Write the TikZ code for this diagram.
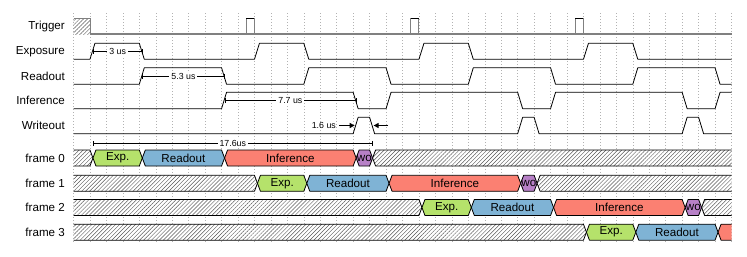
\documentclass[tikz,border=0pt]{standalone}
\usepackage{fontspec}
\setmainfont{Liberation Sans}
\usetikzlibrary{patterns.meta,arrows.meta}
\definecolor{cexp}{RGB}{181,226,107}
\definecolor{cread}{RGB}{127,179,213}
\definecolor{cinf}{RGB}{251,128,114}
\definecolor{cwo}{RGB}{183,128,199}
\definecolor{trig}{RGB}{128,128,128}
\newcommand\cx[1]{73.5+16.45*#1}
\tikzset{
 lbl/.style={anchor=east,font=\fontsize{11.6}{14}\selectfont,inner sep=0pt},
 dtext/.style={font=\fontsize{11.6}{14}\selectfont,inner sep=0pt},
 small/.style={font=\fontsize{8.8}{10}\selectfont,fill=white,inner sep=2pt},
 sigline/.style={line width=0.8pt,line join=round},
 gridl/.style={black!30,line width=0.5pt,dash pattern=on 1pt off 2pt},
 hatch/.style={preaction={fill=white},pattern={Lines[angle=45,distance=2.8pt,line width=0.45pt]},pattern color=black!65},
 border/.style={line width=0.8pt,line join=round},
 dim/.style={line width=0.6pt},
 dimbar/.style={dim,{Bar[width=5pt]}-{Bar[width=5pt]}},
 arr/.style={line width=0.8pt,-{Triangle[length=5pt,width=5pt]}},
}
% middle data segment: c a b style text name
\newcommand\segM[6]{%
 \draw[border,#4] (\cx{#2}+6,#1-8) -- (\cx{#3},#1-8) -- (\cx{#3}+3,#1) -- (\cx{#3},#1+8) -- (\cx{#2}+6,#1+8) -- (\cx{#2}+3,#1) -- cycle;
 \node[dtext] (#6) at ({8.225*#2+8.225*#3+76.5},#1) {#5};
}
% first (hatched) segment: c b
\newcommand\segS[2]{%
 \path[hatch] (\cx{0},#1-8) -- (\cx{#2},#1-8) -- (\cx{#2}+3,#1) -- (\cx{#2},#1+8) -- (\cx{0},#1+8) -- cycle;
 \draw[border] (\cx{0},#1-8) -- (\cx{#2},#1-8) -- (\cx{#2}+3,#1) -- (\cx{#2},#1+8) -- (\cx{0},#1+8);
}
% last segment: c a style
\newcommand\segE[3]{%
 \path[#3] (\cx{#2}+6,#1-8) -- (\cx{40},#1-8) -- (\cx{40},#1+8) -- (\cx{#2}+6,#1+8) -- (\cx{#2}+3,#1) -- cycle;
 \draw[border] (\cx{40},#1-8) -- (\cx{#2}+6,#1-8) -- (\cx{#2}+3,#1) -- (\cx{#2}+6,#1+8) -- (\cx{40},#1+8);
}
% wave: low high list tail
\newcommand\wave[4]{%
 \draw[sigline] (\cx{0},#1) \foreach \a/\b in {#3} { -- (\cx{\a},#1) -- (\cx{\a}+5,#2) -- (\cx{\b},#2) -- (\cx{\b}+5,#1)} #4;
}
\begin{document}
\begin{tikzpicture}[x=1pt,y=-1pt]
\useasboundingbox (0,0) rectangle (747,257);
% grid
\foreach \i in {0,...,40} \draw[gridl] (\cx{\i},13) -- (\cx{\i},242);
% labels
\node[lbl] (ltrig) at (65,26.3) {Trigger};
\node[lbl] (lexp) at (65,51.3) {Exposure};
\node[lbl] (lread) at (65,76) {Readout};
\node[lbl] (linf) at (65,100.5) {Inference};
\node[lbl] (lwo) at (65,125.5) {Writeout};
\node[lbl] (lf0) at (65,158) {frame 0};
\node[lbl] (lf1) at (65,183.3) {frame 1};
\node[lbl] (lf2) at (65,207.5) {frame 2};
\node[lbl] (lf3) at (65,232.2) {frame 3};
% trigger
\path[hatch] (\cx{0},18.3) rectangle (\cx{1},34.3);
\draw[trig,line width=0.6pt] (\cx{0},18.3) -- (\cx{1},18.3) -- (\cx{1},34.3);
\draw[trig,line width=1.8pt] (\cx{1},34.3) -- (\cx{40},34.3);
\foreach \p in {10.5,20.5,30.5}{
  \draw[trig,line width=0.9pt] (\cx{\p},34.3) -- (\cx{\p},18.3);
  \draw[trig,line width=0.9pt] (\cx{\p}+8.2,18.3) -- (\cx{\p}+8.2,34.3);
  \draw[black,line width=0.9pt] (\cx{\p},18.3) -- (\cx{\p}+8.2,18.3);
}
% signals
\wave{59.3}{43.3}{1/4,11/14,21/24,31/34}{-- (\cx{40},59.3)}
\wave{84.3}{67.7}{4/9,14/19,24/29,34/39}{-- (\cx{40},84.3)}
\wave{108.7}{92.3}{9/17,19/27,29/37}{-- (\cx{39},108.7) -- (\cx{39}+5,92.3) -- (\cx{40},92.3)}
\wave{133.7}{117.3}{17/18,27/28,37/38}{-- (\cx{40},133.7)}
% dimensions
\coordinate (d1a) at (\cx{1}+3,51.3);
\coordinate (d1b) at (\cx{4}+3,51.3);
\draw[dimbar] (d1a) -- node[small] (t1) {3 us} (d1b);
\coordinate (d2a) at (\cx{4}+3,76);
\coordinate (d2b) at (\cx{9}+3,76);
\draw[dimbar] (d2a) -- node[small] (t2) {5.3 us} (d2b);
\coordinate (d3a) at (\cx{9}+3,100.5);
\coordinate (d3b) at (\cx{17}+3,100.5);
\draw[dimbar] (d3a) -- node[small] (t3) {7.7 us} (d3b);
\coordinate (d4a) at (\cx{1}+3,143.3);
\coordinate (d4b) at (\cx{18}+3,143.3);
\draw[dimbar] (d4a) -- node[small] (t4) {17.6us} (d4b);
\coordinate (w1s) at (339,125.5);
\coordinate (w1t) at (\cx{17}+1.5,125.5);
\coordinate (w2s) at (388,125.5);
\coordinate (w2t) at (\cx{18}+4,125.5);
\draw[arr] (w1s) -- (w1t);
\draw[arr] (w2s) -- (w2t);
\node[small,fill=none,anchor=east,inner sep=0pt] (t5) at (336,125.5) {1.6 us};
% frame 0
\segS{158}{1}
\segM{158}{1}{4}{fill=cexp}{Exp.}{f0e}
\segM{158}{4}{9}{fill=cread}{Readout}{f0r}
\segM{158}{9}{17}{fill=cinf}{Inference}{f0i}
\segM{158}{17}{18}{fill=cwo}{wo}{f0w}
\segE{158}{18}{hatch}
% frame 1
\segS{183.3}{11}
\segM{183.3}{11}{14}{fill=cexp}{Exp.}{f1e}
\segM{183.3}{14}{19}{fill=cread}{Readout}{f1r}
\segM{183.3}{19}{27}{fill=cinf}{Inference}{f1i}
\segM{183.3}{27}{28}{fill=cwo}{wo}{f1w}
\segE{183.3}{28}{hatch}
% frame 2
\segS{207.5}{21}
\segM{207.5}{21}{24}{fill=cexp}{Exp.}{f2e}
\segM{207.5}{24}{29}{fill=cread}{Readout}{f2r}
\segM{207.5}{29}{37}{fill=cinf}{Inference}{f2i}
\segM{207.5}{37}{38}{fill=cwo}{wo}{f2w}
\segE{207.5}{38}{hatch}
% frame 3
\segS{232.2}{31}
\segM{232.2}{31}{34}{fill=cexp}{Exp.}{f3e}
\segM{232.2}{34}{39}{fill=cread}{Readout}{f3r}
\segE{232.2}{39}{fill=cinf}
\end{tikzpicture}
\end{document}
